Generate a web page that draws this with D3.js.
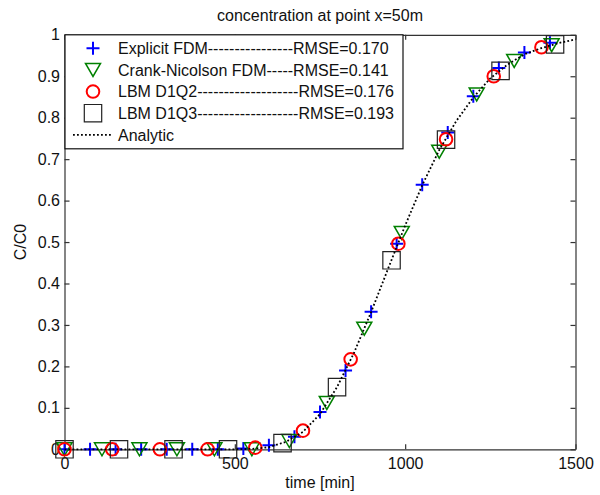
<!DOCTYPE html>
<html>
<head>
<meta charset="utf-8">
<script src="https://cdn.jsdelivr.net/npm/d3@7"></script>
<style>
  html, body { margin: 0; padding: 0; background: #fff; }
  svg text { font-family: "Liberation Sans", Arial, sans-serif; fill: #111; }
</style>
</head>
<body>
<svg id="chart" width="600" height="495"></svg>
<script>
// Breakthrough curve at x = 50 m: numerical schemes vs analytic solution
const titleText = "concentration at point x=50m";
const xLabel = "time [min]";
const yLabel = "C/C0";

const xTicks = [0, 500, 1000, 1500];
const xTickLabels = ["0", "500", "1000", "1500"];
const yTicks = [0, 0.1, 0.2, 0.3, 0.4, 0.5, 0.6, 0.7, 0.8, 0.9, 1];
const yTickLabels = ["0", "0.1", "0.2", "0.3", "0.4", "0.5", "0.6", "0.7", "0.8", "0.9", "1"];

// Explicit FDM (every 75 min)
const explicitT = [0, 75, 150, 225, 300, 375, 450, 525, 600, 675, 750, 825, 900, 975, 1050, 1125, 1200, 1275, 1350, 1425];
const explicitC = [0, 0, 0, 0, 0, 0, 0, 0.002, 0.01, 0.03, 0.09, 0.19, 0.332, 0.496, 0.638, 0.764, 0.852, 0.92, 0.957, 0.981];

// Crank-Nicolson FDM (every 110 min)
const cnT = [0, 110, 220, 330, 440, 550, 660, 770, 880, 990, 1100, 1210, 1320, 1430];
const cnC = [0, 0, 0, 0, 0, 0, 0.02, 0.112, 0.291, 0.522, 0.718, 0.856, 0.937, 0.975];

// LBM D1Q2 (every 140 min)
const q2T = [0, 140, 280, 420, 560, 700, 840, 980, 1120, 1260, 1400];
const q2C = [0, 0, 0, 0, 0.004, 0.045, 0.217, 0.496, 0.748, 0.9, 0.97];

// LBM D1Q3 (every 160 min)
const q3T = [0, 160, 320, 480, 640, 800, 960, 1120, 1280, 1440];
const q3C = [0, 0, 0, 0, 0.015, 0.15, 0.456, 0.747, 0.913, 0.977];

// Analytic solution
const analyticT = [0, 50, 100, 150, 200, 250, 300, 350, 400, 450, 500, 550, 600, 650, 700, 750, 800, 850, 900, 950, 1000, 1050, 1100, 1150, 1200, 1250, 1300, 1350, 1400, 1450, 1500];
const analyticC = [0, 0, 0, 0, 0, 0, 0, 0, 0, 0, 0, 0.001, 0.005, 0.018, 0.042, 0.085, 0.15, 0.233, 0.331, 0.436, 0.54, 0.637, 0.722, 0.792, 0.849, 0.895, 0.928, 0.953, 0.968, 0.98, 0.989];

const legendLabels = [
  "Explicit FDM----------------RMSE=0.170",
  "Crank-Nicolson FDM-----RMSE=0.141",
  "LBM D1Q2-------------------RMSE=0.176",
  "LBM D1Q3-------------------RMSE=0.193",
  "Analytic"
];

const svg = d3.select("#chart");
const fontSize = 16;

const x = d3.scaleLinear().domain([0, 1500]).range([64.5, 575.5]);
const y = d3.scaleLinear().domain([0, 1]).range([449.3, 34.8]);

const axisColor = "#333";

// axes (ticks point inward, mirrored on top/right)
const gx = svg.append("g").attr("transform", `translate(0,${y(0)})`)
  .call(d3.axisBottom(x).tickValues(xTicks).tickFormat((d, i) => xTickLabels[i])
    .tickSizeInner(-5).tickSizeOuter(0).tickPadding(8));
const gy = svg.append("g").attr("transform", `translate(${x(0)},0)`)
  .call(d3.axisLeft(y).tickValues(yTicks).tickFormat((d, i) => yTickLabels[i])
    .tickSizeInner(-5).tickSizeOuter(0).tickPadding(4.5));
const gt = svg.append("g").attr("transform", `translate(0,${y(1)})`)
  .call(d3.axisTop(x).tickValues(xTicks).tickFormat("").tickSizeInner(-5).tickSizeOuter(0));
const gr = svg.append("g").attr("transform", `translate(${x(1500)},0)`)
  .call(d3.axisRight(y).tickValues(yTicks).tickFormat("").tickSizeInner(-5).tickSizeOuter(0));

[gx, gy, gt, gr].forEach(g => {
  g.selectAll("path.domain").attr("stroke", axisColor).attr("stroke-width", 1.2);
  g.selectAll(".tick line").attr("stroke", axisColor).attr("stroke-width", 1.2);
  g.selectAll(".tick text").attr("font-size", fontSize).attr("font-family", "Liberation Sans, Arial, sans-serif").attr("fill", "#111");
});

// titles
svg.append("text").attr("x", 320).attr("y", 21).attr("text-anchor", "middle")
  .attr("font-size", fontSize).text(titleText);
svg.append("text").attr("x", 320).attr("y", 488).attr("text-anchor", "middle")
  .attr("font-size", fontSize).text(xLabel);
svg.append("text").attr("transform", `translate(26,242) rotate(-90)`).attr("text-anchor", "middle")
  .attr("font-size", fontSize).text(yLabel);

// marker shapes
const markerStyles = {
  plus:   { d: "M-6.5,0H6.5M0,-6.5V6.5", stroke: "#0000ff", width: 2 },
  tri:    { d: "M-7.5,-6.5L7.5,-6.5L0,6.5Z", stroke: "#008000", width: 1.5 },
  circle: { d: "M6.3,0A6.3,6.3 0 1,1 -6.3,0A6.3,6.3 0 1,1 6.3,0Z", stroke: "#ff0000", width: 2 },
  square: { d: "M-8.7,-8.7H8.7V8.7H-8.7Z", stroke: "#222", width: 1.2 }
};

function drawMarkers(ts, cs, style) {
  const m = markerStyles[style];
  svg.append("g").selectAll("path")
    .data(ts.map((t, i) => [t, cs[i]]))
    .join("path")
    .attr("transform", d => `translate(${x(d[0])},${y(d[1])})`)
    .attr("d", m.d)
    .attr("fill", "none")
    .attr("stroke", m.stroke)
    .attr("stroke-width", m.width);
}

drawMarkers(explicitT, explicitC, "plus");
drawMarkers(cnT, cnC, "tri");
drawMarkers(q2T, q2C, "circle");
drawMarkers(q3T, q3C, "square");

// analytic dotted line
const line = d3.line().x(d => x(d[0])).y(d => y(d[1]));
svg.append("path")
  .datum(analyticT.map((t, i) => [t, analyticC[i]]))
  .attr("d", line)
  .attr("fill", "none")
  .attr("stroke", "#000")
  .attr("stroke-width", 1.8)
  .attr("stroke-dasharray", "1.8,2.2");

// legend
const lg = svg.append("g").attr("transform", `translate(${x(0)},${y(1)})`);
lg.append("rect").attr("x", 0.5).attr("y", 0).attr("width", 338).attr("height", 114)
  .attr("fill", "#fff").attr("stroke", "#111").attr("stroke-width", 1.2);
const rowY = d3.scaleLinear().domain([0, 4]).range([13.5, 100]);
const legendKinds = ["plus", "tri", "circle", "square", "line"];
legendKinds.forEach((k, i) => {
  const cy = rowY(i);
  if (k === "line") {
    lg.append("line").attr("x1", 8.5).attr("x2", 47.5).attr("y1", cy).attr("y2", cy)
      .attr("stroke", "#000").attr("stroke-width", 1.8).attr("stroke-dasharray", "1.8,2.2");
  } else {
    const m = markerStyles[k];
    lg.append("path").attr("transform", `translate(28.5,${cy})`).attr("d", m.d)
      .attr("fill", "none").attr("stroke", m.stroke).attr("stroke-width", m.width);
  }
  lg.append("text").attr("x", 53.5).attr("y", cy + 5.8).attr("font-size", fontSize).text(legendLabels[i]);
});
</script>
</body>
</html>
